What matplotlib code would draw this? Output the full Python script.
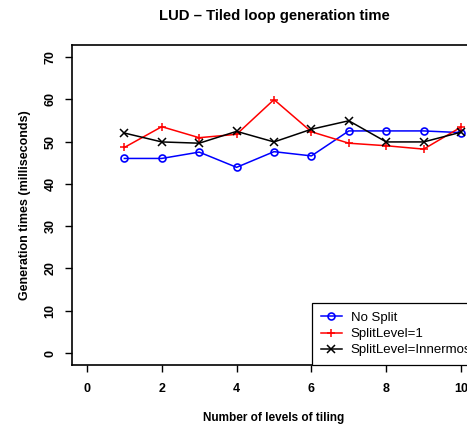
import matplotlib
matplotlib.use("Agg")
import matplotlib.pyplot as plt

plt.rcParams['font.family'] = ['Liberation Sans', 'DejaVu Sans']

levels = [1, 2, 3, 4, 5, 6, 7, 8, 9, 10]
no_split = [46.0, 46.0, 47.5, 43.9, 47.6, 46.6, 52.5, 52.5, 52.5, 52.1]
split_one = [48.6, 53.5, 50.9, 51.7, 59.9, 52.3, 49.6, 49.0, 48.2, 53.4]
split_inner = [52.0, 49.9, 49.6, 52.4, 49.9, 52.9, 54.9, 49.9, 49.9, 52.2]

fig = plt.figure(figsize=(4.67, 4.30), dpi=100)
ax = fig.add_axes([72 / 467, 1 - 365 / 430, (476 - 72) / 467, (365 - 45) / 430])

ax.plot(levels, no_split, color="blue", marker="o", mfc="none", ms=5, mew=1.2, lw=1.1, label="No Split")
ax.plot(levels, split_one, color="red", marker="+", ms=6, mew=1.1, lw=1.1, label="SplitLevel=1")
ax.plot(levels, split_inner, color="black", marker="x", ms=5.5, mew=1.1, lw=1.1, label="SplitLevel=Innermost")

ax.set_xlim(-0.4, 10.4)
ax.set_ylim(-2.8, 72.8)
ax.set_xticks([0, 2, 4, 6, 8, 10])
ax.set_yticks([0, 10, 20, 30, 40, 50, 60, 70])
for lab in ax.get_xticklabels():
    lab.set_fontweight("bold")
for lab in ax.get_yticklabels():
    lab.set_fontweight("bold")
    lab.set_rotation(90)
    lab.set_va("center")
ax.tick_params(axis="both", length=5, width=1, labelsize=9, pad=8)
ax.tick_params(axis="y", pad=6)
for s in ax.spines.values():
    s.set_linewidth(1.2)

ax.set_xlabel("Number of levels of tiling", fontsize=8.5, fontweight="bold", labelpad=12)
ax.set_ylabel("Generation times (milliseconds)", fontsize=9, fontweight="bold", labelpad=10)
ax.set_title("LUD \u2013 Tiled loop generation time", fontsize=10.7, fontweight="bold", pad=18)

leg = ax.legend(loc="lower left", bbox_to_anchor=(0.594, 0.0), fontsize=9.5, frameon=True,
                fancybox=False, edgecolor="black", framealpha=1, borderaxespad=0,
                handlelength=1.6, labelspacing=0.3, borderpad=0.65, handletextpad=0.7)
leg.get_frame().set_linewidth(0.9)

fig.savefig("out.png", dpi=100)
